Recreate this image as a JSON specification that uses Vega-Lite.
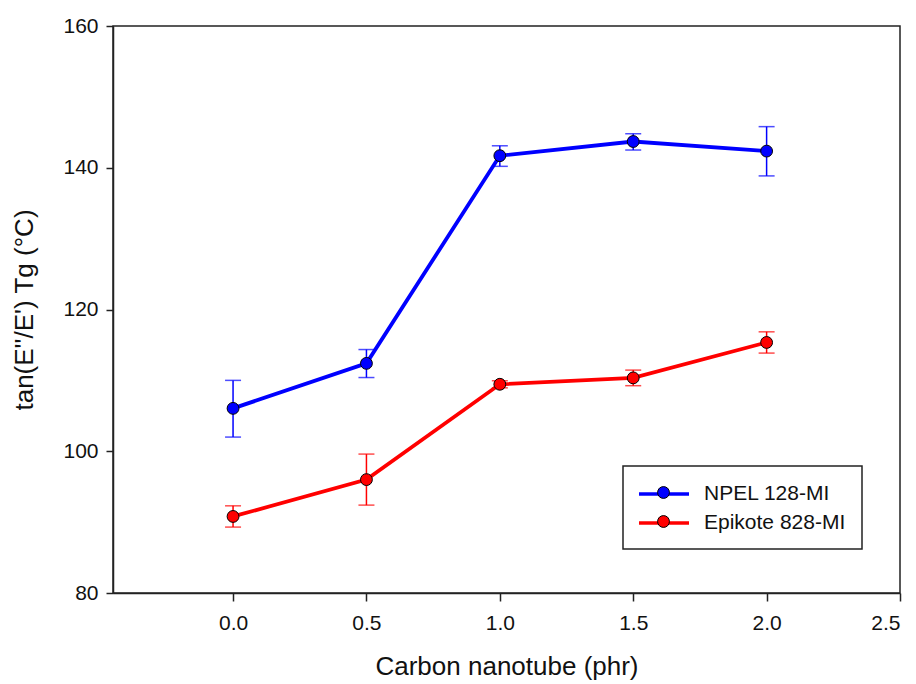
{
  "$schema": "https://vega.github.io/schema/vega-lite/v6.json",
  "width": 787,
  "height": 567,
  "autosize": {"type": "none"},
  "padding": {"left": 113, "top": 26, "right": 16, "bottom": 91},
  "config": {
    "font": "Liberation Sans",
    "view": {"stroke": "#222222", "strokeWidth": 1.5},
    "axis": {
      "grid": false,
      "domainColor": "#222222",
      "domainWidth": 1.5,
      "tickColor": "#222222",
      "tickWidth": 1.5,
      "labelColor": "#111111",
      "titleColor": "#111111",
      "labelFont": "Liberation Sans",
      "titleFont": "Liberation Sans",
      "labelFontSize": 21,
      "titleFontSize": 26,
      "titleFontWeight": "normal"
    },
    "legend": {"strokeWidth": 1.5}
  },
  "data": {
    "values": [
      {"x": 0.0, "series": "NPEL 128-MI", "mean": 106.05, "lo": 102.0, "hi": 110.0},
      {"x": 0.5, "series": "NPEL 128-MI", "mean": 112.4, "lo": 110.4, "hi": 114.35},
      {"x": 1.0, "series": "NPEL 128-MI", "mean": 141.7, "lo": 140.2, "hi": 143.1},
      {"x": 1.5, "series": "NPEL 128-MI", "mean": 143.7, "lo": 142.5, "hi": 144.8},
      {"x": 2.0, "series": "NPEL 128-MI", "mean": 142.35, "lo": 138.85, "hi": 145.8},
      {"x": 0.0, "series": "Epikote 828-MI", "mean": 90.8, "lo": 89.3, "hi": 92.3},
      {"x": 0.5, "series": "Epikote 828-MI", "mean": 96.0, "lo": 92.4, "hi": 99.6},
      {"x": 1.0, "series": "Epikote 828-MI", "mean": 109.45, "lo": 108.95, "hi": 109.95},
      {"x": 1.5, "series": "Epikote 828-MI", "mean": 110.35, "lo": 109.25, "hi": 111.45},
      {"x": 2.0, "series": "Epikote 828-MI", "mean": 115.35, "lo": 113.85, "hi": 116.85}
    ]
  },
  "encoding": {
    "x": {
      "field": "x",
      "type": "quantitative",
      "scale": {"domain": [-0.45, 2.5], "nice": false, "zero": false},
      "axis": {
        "title": "Carbon nanotube (phr)",
        "values": [0, 0.5, 1, 1.5, 2, 2.5],
        "format": ".1f",
        "tickSize": 8,
        "labelPadding": 11,
        "titlePadding": 20
      }
    }
  },
  "layer": [
    {
      "mark": {"type": "line", "strokeWidth": 3.8},
      "encoding": {
        "y": {
          "field": "mean",
          "type": "quantitative",
          "scale": {"domain": [80, 160], "nice": false, "zero": false},
          "axis": {
            "title": "tan(E''/E') Tg (°C)",
            "values": [80, 100, 120, 140, 160],
            "tickSize": 7,
            "labelPadding": 8,
            "titlePadding": 25
          }
        },
        "stroke": {
          "field": "series",
          "type": "nominal",
          "scale": {"domain": ["NPEL 128-MI", "Epikote 828-MI"], "range": ["#0000ff", "#ff0000"]},
          "legend": {
            "title": null,
            "orient": "none",
            "legendX": 510,
            "legendY": 440,
            "padding": 16,
            "rowPadding": 7,
            "strokeColor": "#222222",
            "symbolType": "M-2.5,0H2.5",
            "symbolSize": 400,
            "symbolStrokeWidth": 3.5,
            "symbolOffset": 13,
            "labelOffset": 28,
            "labelExpr": "datum.label + '\u00a0\u00a0\u00a0'",
            "labelFont": "Liberation Sans",
            "labelFontSize": 21,
            "labelColor": "#111111"
          }
        }
      }
    },
    {
      "transform": [{"filter": "datum.series == 'NPEL 128-MI'"}],
      "layer": [
        {"mark": {"type": "rule", "color": "#0000ff", "strokeWidth": 1.5}, "encoding": {"y": {"field": "lo", "type": "quantitative"}, "y2": {"field": "hi"}}},
        {"mark": {"type": "tick", "orient": "horizontal", "color": "#0000ff", "size": 16, "thickness": 1.5}, "encoding": {"y": {"field": "lo", "type": "quantitative"}}},
        {"mark": {"type": "tick", "orient": "horizontal", "color": "#0000ff", "size": 16, "thickness": 1.5}, "encoding": {"y": {"field": "hi", "type": "quantitative"}}}
      ]
    },
    {
      "transform": [{"filter": "datum.series == 'Epikote 828-MI'"}],
      "layer": [
        {"mark": {"type": "rule", "color": "#ff0000", "strokeWidth": 1.5}, "encoding": {"y": {"field": "lo", "type": "quantitative"}, "y2": {"field": "hi"}}},
        {"mark": {"type": "tick", "orient": "horizontal", "color": "#ff0000", "size": 16, "thickness": 1.5}, "encoding": {"y": {"field": "lo", "type": "quantitative"}}},
        {"mark": {"type": "tick", "orient": "horizontal", "color": "#ff0000", "size": 16, "thickness": 1.5}, "encoding": {"y": {"field": "hi", "type": "quantitative"}}}
      ]
    },
    {
      "mark": {"type": "point", "filled": true, "shape": "circle", "size": 140, "stroke": "#000000", "strokeWidth": 1, "opacity": 1},
      "encoding": {
        "y": {"field": "mean", "type": "quantitative"},
        "fill": {
          "field": "series",
          "type": "nominal",
          "sort": null,
          "scale": {"range": ["#0000ff", "#ff0000"]},
          "legend": {
            "title": null,
            "orient": "none",
            "legendX": 510,
            "legendY": 440,
            "padding": 16,
            "rowPadding": 7,
            "symbolType": "circle",
            "symbolSize": 140,
            "symbolStrokeColor": "#000000",
            "symbolStrokeWidth": 1,
            "symbolOffset": 14,
            "labelExpr": "''",
            "labelFont": "Liberation Sans",
            "labelFontSize": 21
          }
        }
      }
    }
  ]
}
